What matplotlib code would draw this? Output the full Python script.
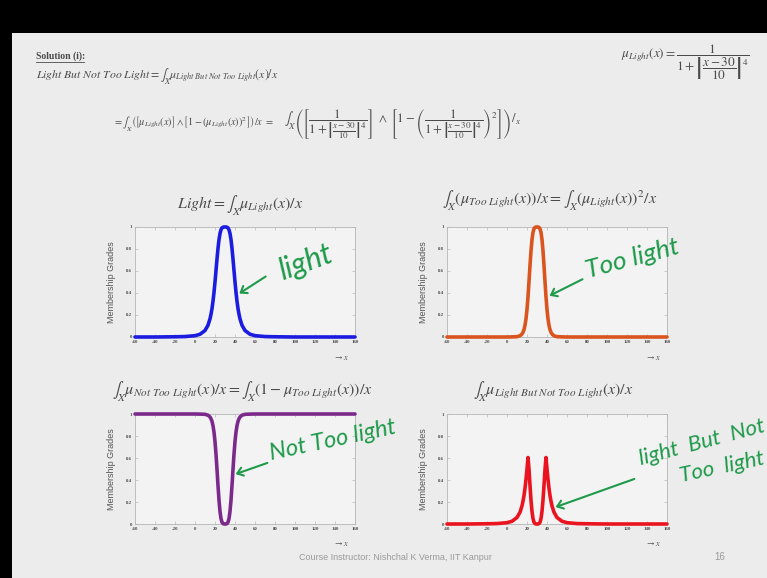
import matplotlib
matplotlib.use("Agg")
import matplotlib.pyplot as plt
from matplotlib.lines import Line2D
from matplotlib.patches import FancyArrowPatch

plt.rcParams["mathtext.fontset"] = "stix"
plt.rcParams["font.family"] = ["DejaVu Sans"]

W, H = 767, 578

# shared x grid
x_vals = [-60, -40, -20, -10, 0, 5, 10, 13, 15, 16, 17, 18, 19, 20, 21, 22, 23, 24, 25,
          26, 27, 28, 29, 30, 31, 32, 33, 34, 35, 36, 37, 38, 39, 40, 41, 42, 43, 44, 45,
          47, 50, 55, 60, 70, 80, 100, 120, 140, 160]

mu_light = [0.000, 0.000, 0.002, 0.004, 0.012, 0.025, 0.059, 0.107, 0.165, 0.207, 0.259,
            0.325, 0.406, 0.500, 0.604, 0.709, 0.806, 0.885, 0.941, 0.975, 0.992, 0.998,
            1.000, 1.000, 1.000, 0.998, 0.992, 0.975, 0.941, 0.885, 0.806, 0.709, 0.604,
            0.500, 0.406, 0.325, 0.259, 0.207, 0.165, 0.107, 0.059, 0.025, 0.012, 0.004,
            0.002, 0.000, 0.000, 0.000, 0.000]

mu_too_light = [0.000, 0.000, 0.000, 0.000, 0.000, 0.001, 0.003, 0.011, 0.027, 0.043, 0.067,
                0.106, 0.165, 0.250, 0.365, 0.503, 0.650, 0.783, 0.886, 0.951, 0.984, 0.996,
                1.000, 1.000, 1.000, 0.996, 0.984, 0.951, 0.886, 0.783, 0.650, 0.503, 0.365,
                0.250, 0.165, 0.106, 0.067, 0.043, 0.027, 0.011, 0.003, 0.001, 0.000, 0.000,
                0.000, 0.000, 0.000, 0.000, 0.000]

mu_not_too_light = [1.000, 1.000, 1.000, 1.000, 1.000, 0.999, 0.997, 0.989, 0.973, 0.957, 0.933,
                    0.894, 0.835, 0.750, 0.635, 0.497, 0.350, 0.217, 0.114, 0.049, 0.016, 0.004,
                    0.000, 0.000, 0.000, 0.004, 0.016, 0.049, 0.114, 0.217, 0.350, 0.497, 0.635,
                    0.750, 0.835, 0.894, 0.933, 0.957, 0.973, 0.989, 0.997, 0.999, 1.000, 1.000,
                    1.000, 1.000, 1.000, 1.000, 1.000]

mu_lbntl = [0.000, 0.000, 0.002, 0.004, 0.012, 0.025, 0.059, 0.107, 0.165, 0.207, 0.259,
            0.325, 0.406, 0.500, 0.604, 0.497, 0.350, 0.217, 0.114, 0.049, 0.016, 0.004,
            0.000, 0.000, 0.000, 0.004, 0.016, 0.049, 0.114, 0.217, 0.350, 0.497, 0.604,
            0.500, 0.406, 0.325, 0.259, 0.207, 0.165, 0.107, 0.059, 0.025, 0.012, 0.004,
            0.002, 0.000, 0.000, 0.000, 0.000]

x_ticks = [-60, -40, -20, 0, 20, 40, 60, 80, 100, 120, 140, 160]
y_ticks = [0, 0.2, 0.4, 0.6, 0.8, 1]
y_ticklabels = ["0", "0.2", "0.4", "0.6", "0.8", "1"]

ink = "#4a4a4a"
pen = "#1e9a4a"


def box(x0, y0, x1, y1):
    return [x0 / W, 1 - y1 / H, (x1 - x0) / W, (y1 - y0) / H]


def fx(px):
    return px / W


def fy(py):
    return 1 - py / H


fig = plt.figure(figsize=(W / 100, H / 100), dpi=100)
fig.patch.set_facecolor("black")

slide = fig.add_axes(box(12, 33, 767, 578))
slide.set_facecolor("#ececec")
slide.set_xticks([])
slide.set_yticks([])
for s in slide.spines.values():
    s.set_visible(False)

# header
fig.text(fx(36), fy(56), "Solution (i):", fontsize=7, fontweight="bold", color=ink,
         family="Liberation Serif", va="center")
fig.add_artist(Line2D([fx(36), fx(84)], [fy(62), fy(62)], color=ink, lw=0.6))
fig.text(fx(36), fy(76),
         r"$\mathit{Light\ But\ Not\ Too\ Light}=\int_X\mu_{Light\ But\ Not\ Too\ Light}(x)/x$",
         fontsize=8.5, color=ink, va="center")
fig.text(fx(113), fy(124),
         r"$=\int_X\left(\left[\mu_{Light}(x)\right]\wedge\left[1-\left(\mu_{Light}(x)\right)^2\right]\right)/x\ =$",
         fontsize=7.4, color=ink, va="center")
fig.text(fx(284), fy(124),
         r"$\int_X\left(\left[\dfrac{1}{1+\left|\frac{x-30}{10}\right|^4}\right]\ \wedge\ "
         r"\left[1-\left(\dfrac{1}{1+\left|\frac{x-30}{10}\right|^4}\right)^2\right]\right)/_x$",
         fontsize=9.2, color=ink, va="center")
fig.text(fx(621), fy(62),
         r"$\mu_{Light}(x)=\dfrac{1}{1+\left|\dfrac{x-30}{10}\right|^4}$",
         fontsize=9.5, color=ink, va="center")

panels = [
    (box(135, 227, 355, 337), mu_light, "#1c1ce0",
     r"$Light=\int_X\mu_{Light}(x)/x$", (240, 206)),
    (box(447, 227, 667, 337), mu_too_light, "#d9541e",
     r"$\int_X\left(\mu_{Too\ Light}(x)\right)/x=\int_X\left(\mu_{Light}(x)\right)^2/x$", (550, 201)),
    (box(135, 414, 355, 524), mu_not_too_light, "#7b2a8c",
     r"$\int_X\mu_{Not\ Too\ Light}(x)/x=\int_X\left(1-\mu_{Too\ Light}(x)\right)/x$", (242, 392)),
    (box(447, 414, 667, 524), mu_lbntl, "#ea1420",
     r"$\int_X\mu_{Light\ But\ Not\ Too\ Light}(x)/x$", (553, 392)),
]

for rect, ys, color, title, tpos in panels:
    ax = fig.add_axes(rect)
    ax.set_facecolor("#f3f3f3")
    ax.plot(x_vals, ys, color=color, lw=2.6, solid_capstyle="round", clip_on=False, zorder=3)
    ax.set_xlim(-60, 160)
    ax.set_ylim(0, 1)
    ax.set_xticks(x_ticks)
    ax.set_xticklabels([str(t) for t in x_ticks])
    ax.set_yticks(y_ticks)
    ax.set_yticklabels(y_ticklabels)
    ax.tick_params(direction="in", length=2, width=0.4, colors="#aaaaaa", labelcolor=ink,
                   labelsize=3.5, pad=2, top=True, right=True)
    for lab in ax.get_xticklabels() + ax.get_yticklabels():
        lab.set_fontweight("bold")
        lab.set_family("Liberation Serif")
    for s in ax.spines.values():
        s.set_color("#b5b5b5")
        s.set_linewidth(0.6)
    ax.set_ylabel("Membership Grades", fontsize=6.5, color="#555555", labelpad=7,
                  family="Liberation Sans")
    fig.text(fx(tpos[0]), fy(tpos[1]), title, fontsize=11.5, color=ink, ha="center", va="center")
    xr = rect[0] + rect[2]
    fig.text(xr - 14 / W, rect[1] - 20 / H, r"$\rightarrow x$", fontsize=6,
             color=ink, ha="center", va="center")

# handwritten notes
hand = dict(color=pen, family="Lato", style="italic", ha="center", va="center")
arrow = dict(transform=fig.transFigure, arrowstyle="->,head_length=4,head_width=3",
             color=pen, lw=1.5)
fig.text(fx(305), fy(262), "light", fontsize=22, rotation=20, **hand)
fig.add_artist(FancyArrowPatch((fx(268), fy(275)), (fx(237), fy(295)), **arrow))
fig.text(fx(632), fy(258), "Too light", fontsize=19, rotation=15, **hand)
fig.add_artist(FancyArrowPatch((fx(585), fy(278)), (fx(547), fy(297)), **arrow))
fig.text(fx(333), fy(440), "Not Too light", fontsize=17, rotation=12, **hand)
fig.add_artist(FancyArrowPatch((fx(270), fy(462)), (fx(233), fy(475)), **arrow))
fig.text(fx(702), fy(443), "light  But  Not", fontsize=16, rotation=15, **hand)
fig.text(fx(722), fy(467), "Too  light", fontsize=16, rotation=12, **hand)
fig.add_artist(FancyArrowPatch((fx(637), fy(478)), (fx(553), fy(508)), **arrow))

# footer
fig.text(fx(395), fy(557), "Course Instructor: Nishchal K Verma, IIT Kanpur", fontsize=6.5,
         color="#9a9a9a", ha="center", va="center", family="Liberation Sans")
fig.text(fx(720), fy(557), "16", fontsize=7, color="#9a9a9a", ha="center", va="center",
         family="Liberation Sans")

fig.savefig("out.png", dpi=100, facecolor=fig.get_facecolor())
